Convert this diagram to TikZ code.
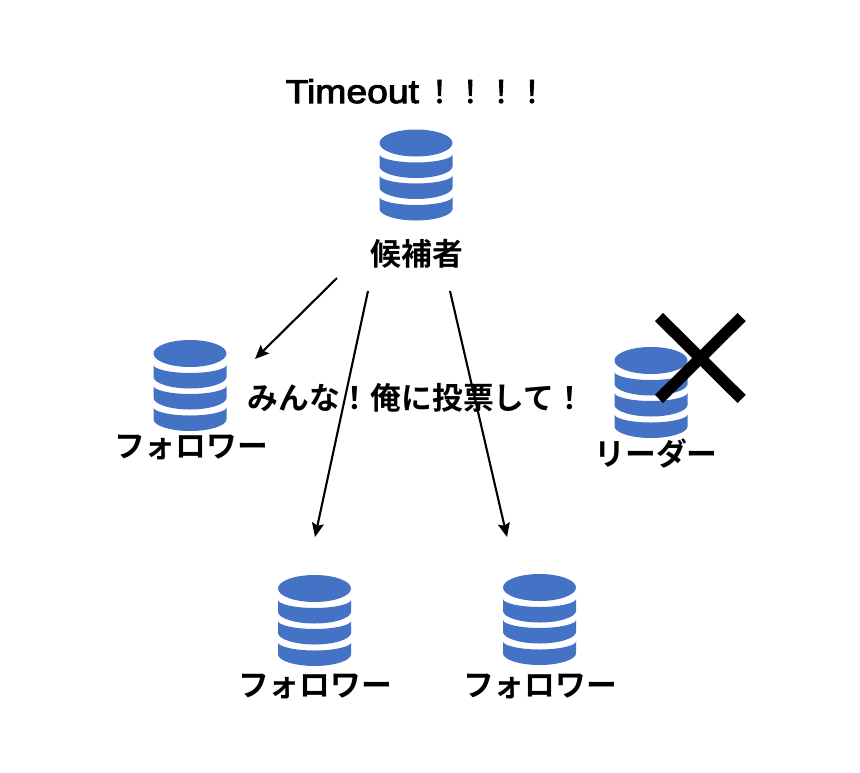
\documentclass[tikz,border=0pt]{standalone}
\usepackage{fontspec}
\setmainfont{Noto Sans CJK JP}[BoldFont={* Bold}]
\newfontfamily\latinlbl[FakeBold=3,FakeStretch=1.13]{Liberation Sans}
\newfontfamily\banglbl[FakeBold=3]{Noto Sans CJK JP}
\usetikzlibrary{arrows.meta}
\definecolor{dbblue}{HTML}{4472C4}
\tikzset{
  lbl/.style={inner sep=0pt,anchor=base,font=\fontsize{30.8pt}{30.8pt}\selectfont\bfseries},
  conn/.style={draw=black,line width=2.1pt,-{Stealth[length=14pt,width=12pt,inset=2.5pt]}},
  crossarm/.style={draw=black,line width=11.5pt},
  dbicon/.pic={
    \fill[dbblue] (0,13.5) ellipse [x radius=36.5,y radius=13.5];
    \foreach \t in {25,46,67.5}{
      \fill[dbblue] (-36.5,\t)
        .. controls (-36.5,\t+4) and (-20,\t+8) .. (0,\t+8)
        .. controls (20,\t+8) and (36.5,\t+4) .. (36.5,\t)
        -- (36.5,\t+12)
        .. controls (36.5,\t+18) and (20,\t+23.5) .. (0,\t+23.5)
        .. controls (-20,\t+23.5) and (-36.5,\t+18) .. (-36.5,\t+12) -- cycle;
    }
  }
}
\begin{document}
\begin{tikzpicture}[x=1pt,y=-1pt]
\useasboundingbox (0,0) rectangle (860,772);
\fill[white] (0,0) rectangle (860,772);
\pic at (416,129.5) {dbicon};
\pic at (190,340) {dbicon};
\pic at (651,347) {dbicon};
\pic at (314.5,575) {dbicon};
\pic at (539.5,574) {dbicon};
\node[lbl] (timeout) at (416.5,103) {{\latinlbl\mdseries\fontsize{33pt}{33pt}\selectfont Timeout}\,{\banglbl\mdseries！！！！}};
\node[lbl] (cand) at (417,265) {候補者};
\node[lbl] (f1) at (191,457) {フォロワー};
\node[lbl] (lead) at (656,465) {リーダー};
\node[lbl] (f2) at (315,696) {フォロワー};
\node[lbl] (f3) at (540,696) {フォロワー};
\node[lbl] (msg) at (416.5,409) {みんな！俺に投票して！};
\coordinate (a1s) at (337,278);
\coordinate (a1e) at (255,359);
\coordinate (a2s) at (368,291);
\coordinate (a2e) at (315,537);
\coordinate (a3s) at (450,291);
\coordinate (a3e) at (507,537);
\draw[conn] (a1s) -- (a1e);
\draw[conn] (a2s) -- (a2e);
\draw[conn] (a3s) -- (a3e);
\coordinate (c1) at (659,317);
\coordinate (c2) at (741.7,399);
\coordinate (c3) at (741.7,317);
\coordinate (c4) at (659,399);
\draw[crossarm] (c1) -- (c2);
\draw[crossarm] (c3) -- (c4);
\end{tikzpicture}
\end{document}
